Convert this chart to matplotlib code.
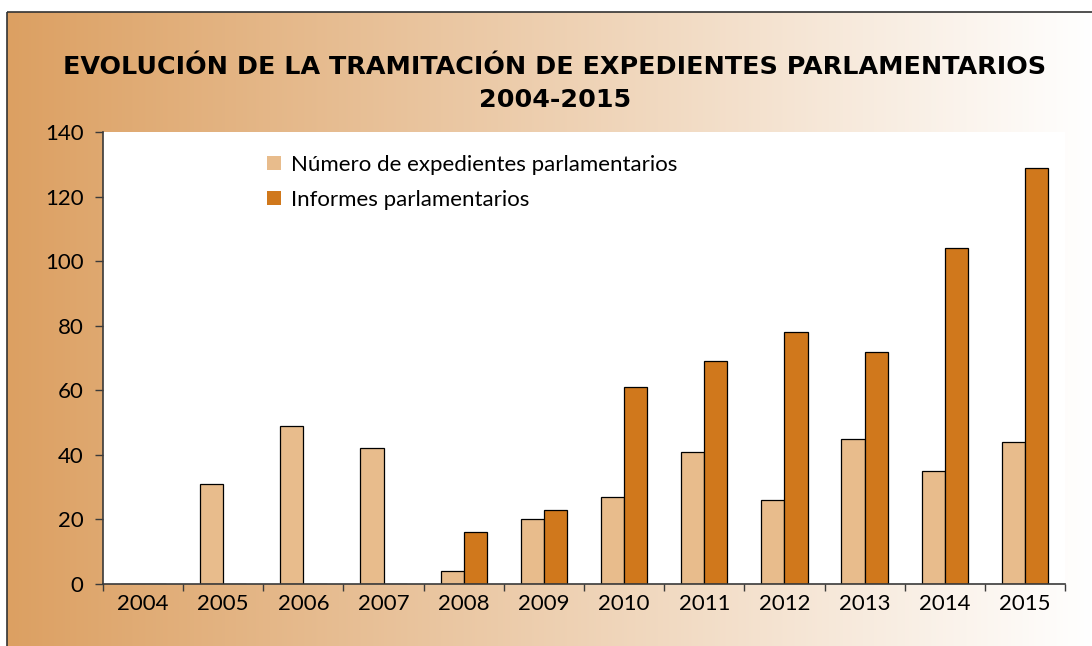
#!/usr/bin/env python3
"""Evolución de la tramitación de expedientes parlamentarios 2004-2015."""

import numpy as np
import matplotlib.pyplot as plt
from matplotlib.patches import Patch, Rectangle

plt.rcParams["font.family"] = ["Lato", "DejaVu Sans"]

YEARS = ["2004", "2005", "2006", "2007", "2008", "2009",
         "2010", "2011", "2012", "2013", "2014", "2015"]
EXPEDIENTES = [0, 31, 49, 42, 4, 20, 27, 41, 26, 45, 35, 44]
INFORMES = [0, 0, 0, 0, 16, 23, 61, 69, 78, 72, 104, 129]
LABELS = ["Número de expedientes parlamentarios", "Informes parlamentarios"]
TITLE = "EVOLUCIÓN DE LA TRAMITACIÓN DE EXPEDIENTES PARLAMENTARIOS\n2004-2015"

LIGHT = "#E8BC8C"
DARK = "#D0781C"
AXIS = "#3a3a3a"

fig = plt.figure(figsize=(10.92, 6.46), dpi=100)

# gradient background with thin border
bg = fig.add_axes([0, 0, 1, 1], zorder=-10)
bg.set_xlim(0, 1092)
bg.set_ylim(646, 0)
bg.axis("off")
left_rgb = np.array([220, 160, 98]) / 255
right_rgb = np.array([255, 255, 255]) / 255
t = np.linspace(0, 1, 512)[None, :, None]
grad = left_rgb + (right_rgb - left_rgb) * t
bg.imshow(grad, extent=(7, 1092, 646, 12), aspect="auto", interpolation="bilinear")
bg.add_patch(Rectangle((7, 12), 1100, 700, fill=False, edgecolor="#333333", linewidth=1.2))

ax = fig.add_axes([103 / 1092, 62 / 646, 962 / 1092, 452 / 646])
ax.set_facecolor("white")

x = np.arange(len(YEARS))
width = 0.29
ax.bar(x - width / 2, EXPEDIENTES, width, color=LIGHT, edgecolor="black", linewidth=0.9)
ax.bar(x + width / 2, INFORMES, width, color=DARK, edgecolor="black", linewidth=0.9)

ax.set_xlim(-0.5, len(YEARS) - 0.5)
ax.set_ylim(0, 140)
ax.set_yticks(range(0, 141, 20))
ax.set_xticks(x)
ax.set_xticklabels(YEARS)
ax.set_xticks(np.arange(-0.5, len(YEARS), 1), minor=True)
ax.tick_params(axis="x", which="major", length=0, pad=7, labelsize=16)
ax.tick_params(axis="x", which="minor", length=5, width=1, color=AXIS, direction="out")
ax.tick_params(axis="y", length=6, width=1, color=AXIS, labelsize=16, pad=8)

for side in ("top", "right"):
    ax.spines[side].set_visible(False)
for side in ("left", "bottom"):
    ax.spines[side].set_color(AXIS)
    ax.spines[side].set_linewidth(1.2)

handles = [Patch(facecolor=LIGHT, edgecolor="none"), Patch(facecolor=DARK, edgecolor="none")]
ax.legend(handles, LABELS, loc="upper left", bbox_to_anchor=(0.15, 0.994),
          frameon=False, fontsize=16, handlelength=0.6, handleheight=0.6,
          handletextpad=0.45, labelspacing=0.7)

fig.text(0.508, 0.871, TITLE, ha="center", va="center", fontsize=18.3,
         fontweight="bold", linespacing=1.5, family=["DejaVu Sans"])

fig.savefig("out.png", dpi=100)
